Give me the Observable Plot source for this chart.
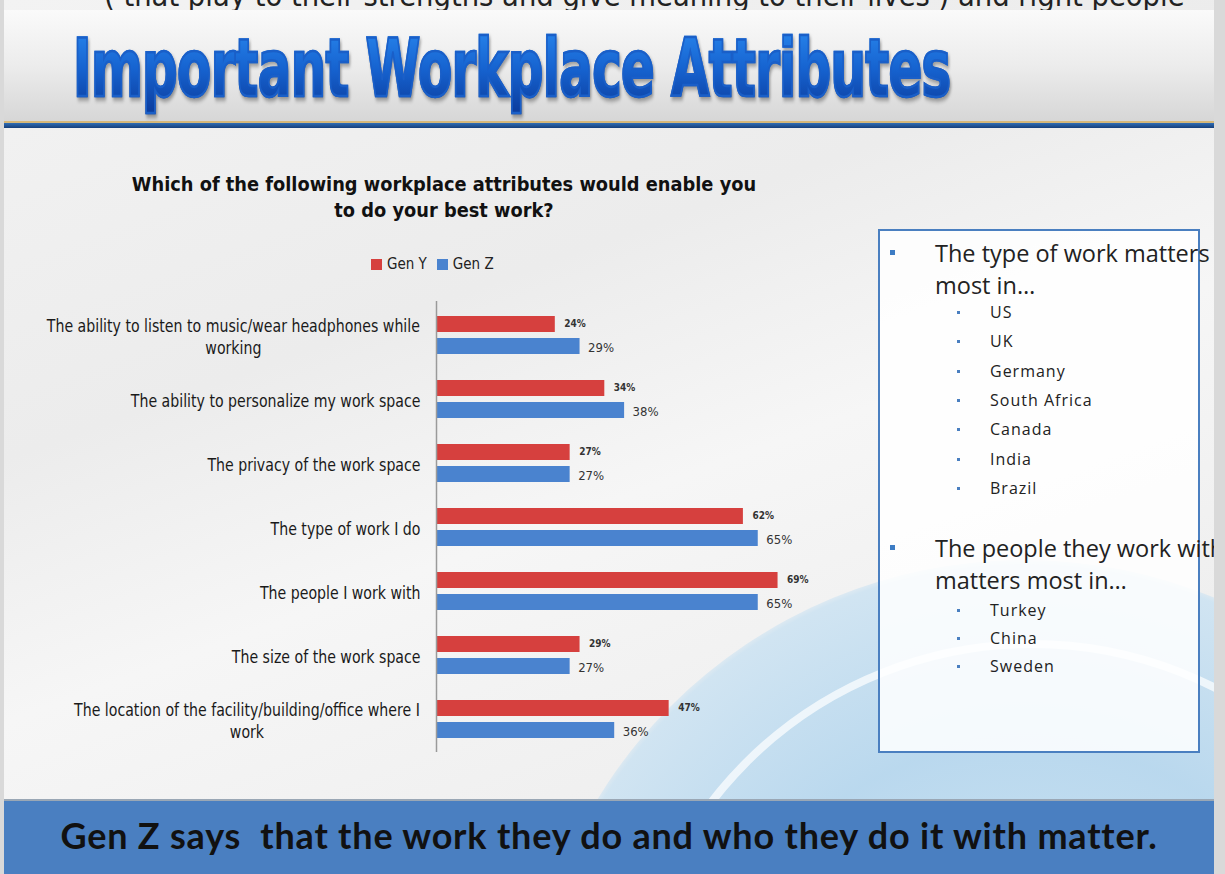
<!DOCTYPE html>
<html>
<head>
<meta charset="utf-8">
<script src="https://cdn.jsdelivr.net/npm/d3@7"></script>
<script src="https://cdn.jsdelivr.net/npm/@observablehq/plot@0.6"></script>
<style>
  html, body { margin: 0; padding: 0; }
  body { width: 1225px; height: 874px; overflow: hidden; background: #d9d9d9; position: relative; font-family: "Open Sans", sans-serif; }
  #slide { position: absolute; left: 4px; top: 0; width: 1210px; height: 874px; overflow: hidden;
    background: linear-gradient(160deg, #f3f3f3 0%, #ececec 35%, #f6f6f6 55%, #e9e9e9 100%); }
  .abs { position: absolute; }
  #toptext { left: 100px; top: -22px; font-family: "DejaVu Sans Condensed", "DejaVu Sans", sans-serif; font-stretch: condensed; font-size: 30.5px; color: #222; white-space: nowrap; }
  #band { left: 0; top: 10px; width: 1210px; height: 112px; background: linear-gradient(180deg, #fafafa 0%, #ececec 50%, #d6d6d6 100%); }
  #goldline { left: 0; top: 121px; width: 1210px; height: 2px; background: #d6b87a; }
  #blueline { left: 0; top: 123px; width: 1210px; height: 5px; background: linear-gradient(180deg, #2f6db5, #163f7a); }
  #title { left: 69px; top: 22px; font-family: "DejaVu Sans", sans-serif; font-weight: bold; font-size: 80px; white-space: nowrap;
    transform-origin: 0 0; transform: scaleX(0.622);
    background: linear-gradient(180deg, #2a8af0 0%, #1663d0 50%, #0b3a9a 100%); -webkit-background-clip: text; background-clip: text; color: transparent;
    -webkit-text-stroke: 2.5px #1a5fc8;
    filter: drop-shadow(2px 3px 2px rgba(0,0,0,0.35)); letter-spacing: -1px; }
  #globe { left: 520px; top: 560px; width: 1000px; height: 1000px; border-radius: 50%;
    background: radial-gradient(circle at 50% 50%, #cfe6f5 0%, #b4d6ee 45%, #cde3f2 70%, rgba(230,240,248,0) 72%); opacity: 0.9; }
  #globe2 { left: 620px; top: 640px; width: 800px; height: 800px; border-radius: 50%; border: 8px solid rgba(255,255,255,0.7); }
  #q { left: 90px; top: 172px; width: 700px; text-align: center; font-family: "DejaVu Sans Condensed", "DejaVu Sans", sans-serif; font-stretch: condensed; font-weight: bold; font-size: 19.8px; line-height: 26px; color: #111; }
  #legend { left: 367px; top: 255px; font-family: "DejaVu Sans Condensed", "DejaVu Sans", sans-serif; font-stretch: condensed; font-size: 15px; color: #222; white-space: nowrap; }
  #legend span.sw { display: inline-block; width: 11px; height: 11px; margin-right: 5px; vertical-align: -1px; }
  #legend span.item { margin-right: 10px; }
  #chart { left: -4px; top: 290px; }
  #box { left: 874px; top: 229px; width: 318px; height: 520px; border: 2px solid #4a7fc0; background: rgba(255,255,255,0.85); }
  #boxtext { left: 880px; top: 236px; width: 400px; color: #222; font-family: "Open Sans", sans-serif; }
  .b1 { position: absolute; left: 0; font-size: 23.5px; line-height: 32px; white-space: nowrap; }
  .b1 .sq { position: absolute; left: 6px; top: 13px; width: 5px; height: 5px; background: #3d7cc4; }
  .b1 .t { position: absolute; left: 51px; }
  .b2 { position: absolute; left: 0; font-size: 16px; white-space: nowrap; letter-spacing: 1px; }
  .b2 .dot { position: absolute; left: 73px; top: 10px; width: 3px; height: 3px; background: #4a7fc0; }
  .b2 .t { position: absolute; left: 106px; }
  #bottom { left: 0; top: 799px; width: 1210px; height: 75px; background: #4a7fc1; border-top: 2px solid #9aa7b5; }
  #bottomtext { left: 0; top: 813px; width: 1210px; text-align: center; font-family: "Lato", sans-serif; font-weight: bold; font-size: 36px; letter-spacing: 0.8px; color: #111; white-space: pre; }
</style>
</head>
<body>
<div id="slide">
  <div id="globe" class="abs"></div>
  <div id="globe2" class="abs"></div>
  <div id="toptext" class="abs">( that play to their strengths and give meaning to their lives ) and right people</div>
  <div id="band" class="abs"></div>
  <div id="goldline" class="abs"></div>
  <div id="blueline" class="abs"></div>
  <div id="title" class="abs">Important Workplace Attributes</div>
  <div id="q" class="abs">Which of the following workplace attributes would enable you<br>to do your best work?</div>
  <div id="legend" class="abs"></div>
  <div id="chart" class="abs"></div>
  <div id="box" class="abs"></div>
  <div id="boxtext" class="abs"></div>
  <div id="bottom" class="abs"></div>
  <div id="bottomtext" class="abs">Gen Z says  that the work they do and who they do it with matter.</div>
</div>
<script>
const categories = [
  "The ability to listen to music/wear headphones while\nworking",
  "The ability to personalize my work space",
  "The privacy of the work space",
  "The type of work I do",
  "The people I work with",
  "The size of the work space",
  "The location of the facility/building/office where I\nwork"
];
const series = ["Gen Y", "Gen Z"];
const genY = [24, 34, 27, 62, 69, 29, 47];
const genZ = [29, 38, 27, 65, 65, 27, 36];
const colors = ["#d6403e", "#4a83cf"];

const workCountries = ["US", "UK", "Germany", "South Africa", "Canada", "India", "Brazil"];
const peopleCountries = ["Turkey", "China", "Sweden"];

const dataY = categories.map((c, i) => ({category: c, series: "Gen Y", value: genY[i]}));
const dataZ = categories.map((c, i) => ({category: c, series: "Gen Z", value: genZ[i]}));

const labelFont = '"DejaVu Sans Condensed", "DejaVu Sans", sans-serif';
const squeeze = 0.85;

const chart = Plot.plot({
  width: 870,
  height: 472,
  marginLeft: 436,
  marginRight: 38,
  marginTop: 11,
  marginBottom: 10,
  style: {background: "transparent", overflow: "visible"},
  x: {domain: [0, 80], axis: null},
  y: {domain: categories, paddingInner: 0.75, paddingOuter: 0.375, axis: null},
  marks: [
    Plot.barX(dataY, {y: "category", x: "value", fill: colors[0], dy: -11, insetLeft: 1}),
    Plot.barX(dataZ, {y: "category", x: "value", fill: colors[1], dy: 11, insetLeft: 1}),
    Plot.text(dataY, {y: "category", x: "value", text: d => d.value + "%", dx: 9, dy: -12, textAnchor: "start",
      fontSize: 10, fontWeight: "bold", fill: "#333", fontFamily: labelFont}),
    Plot.text(dataZ, {y: "category", x: "value", text: d => d.value + "%", dx: 8, dy: 12, textAnchor: "start",
      fontSize: 13, fill: "#333", fontFamily: labelFont}),
    Plot.axisY({tickSize: 0, tickPadding: 16, fontSize: 18.5, fill: "#1a1a1a", fontFamily: labelFont, lineHeight: 1.2, label: null}),
    Plot.ruleX([0], {stroke: "#9a9a9a", strokeWidth: 1.5})
  ]
});
document.getElementById("chart").appendChild(chart);

// squeeze the category labels horizontally (condensed face), and centre wrapped ones on their longest line
chart.querySelectorAll("g[aria-label='y-axis tick label'] text").forEach(t => {
  const tr = t.getAttribute("transform") || "";
  const tspans = t.querySelectorAll("tspan");
  if (tspans.length > 1) {
    const w = t.getBBox().width * squeeze;
    t.setAttribute("text-anchor", "middle");
    t.setAttribute("transform", tr + ` translate(${-w / 2},0) scale(${squeeze},1)`);
  } else {
    t.setAttribute("transform", tr + ` scale(${squeeze},1)`);
  }
});

// legend
const legend = document.getElementById("legend");
series.forEach((s, i) => {
  const item = document.createElement("span");
  item.className = "item";
  item.innerHTML = `<span class="sw" style="background:${colors[i]}"></span>${s}`;
  legend.appendChild(item);
});

// text box
const box = document.getElementById("boxtext");
function addB1(top, lines) {
  const d = document.createElement("div");
  d.className = "b1"; d.style.top = top + "px";
  d.innerHTML = `<span class="sq"></span><span class="t">${lines.join("<br>")}</span>`;
  box.appendChild(d);
}
function addB2(top, text) {
  const d = document.createElement("div");
  d.className = "b2"; d.style.top = top + "px";
  d.innerHTML = `<span class="dot"></span><span class="t">${text}</span>`;
  box.appendChild(d);
}
addB1(1, ["The type of work matters", "most in…"]);
workCountries.forEach((c, i) => addB2(65 + i * 29.3, c));
addB1(296, ["The people they work with", "matters most in…"]);
peopleCountries.forEach((c, i) => addB2(363 + i * 28, c));
</script>
</body>
</html>
